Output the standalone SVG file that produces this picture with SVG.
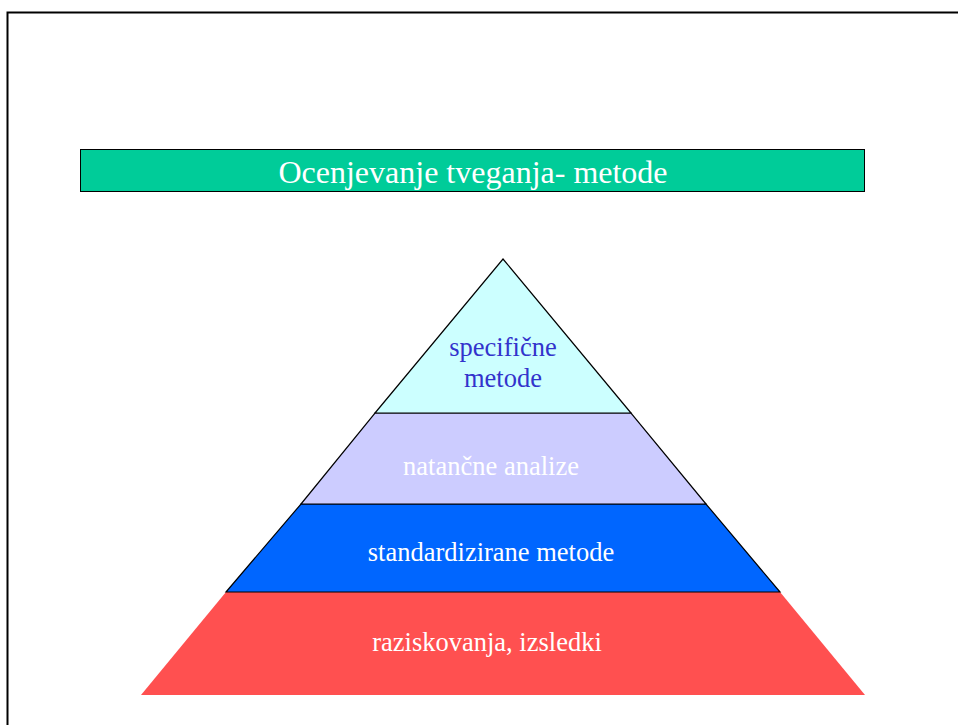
<svg xmlns="http://www.w3.org/2000/svg" width="958" height="725" viewBox="0 0 958 725">
  <style>
    .lbl { font-family: "Liberation Serif", "Times New Roman", serif; text-anchor: middle; }
    .layer { font-size: 26.5px; }
    .white { fill: #FFFFFF; }
    .edge { stroke: #000000; stroke-width: 1.2; stroke-linejoin: miter; }
  </style>
  <rect width="958" height="725" fill="#FFFFFF"/>
  <!-- page frame -->
  <path d="M7.5 725 V12.5 H958" fill="none" stroke="#000000" stroke-width="2"/>
  <!-- title bar -->
  <g id="title">
    <rect x="80.5" y="149.5" width="784" height="42" fill="#00CC99" stroke="#000000" stroke-width="1"/>
    <text class="lbl white" x="473" y="183" font-size="32">Ocenjevanje tveganja- metode</text>
  </g>
  <!-- pyramid layers, bottom to top -->
  <g id="layer-research">
    <polygon points="226,592 780,592 865,695 141,695" fill="#FF5050"/>
    <text class="lbl layer white" x="487" y="651">raziskovanja, izsledki</text>
  </g>
  <g id="layer-standard">
    <polygon class="edge" points="301,504 706,504 780,592 226,592" fill="#0066FF"/>
    <text class="lbl layer white" x="491" y="561">standardizirane metode</text>
  </g>
  <g id="layer-detailed">
    <polygon class="edge" points="375,413 631,413 706,504 301,504" fill="#CCCCFF"/>
    <text class="lbl layer white" x="491" y="475">natančne analize</text>
  </g>
  <g id="layer-specific">
    <polygon class="edge" points="503,259 631,413 375,413" fill="#CCFFFF"/>
    <text class="lbl layer" x="503" y="356" fill="#3333CC">specifične</text>
    <text class="lbl layer" x="503" y="387" fill="#3333CC">metode</text>
  </g>
</svg>
